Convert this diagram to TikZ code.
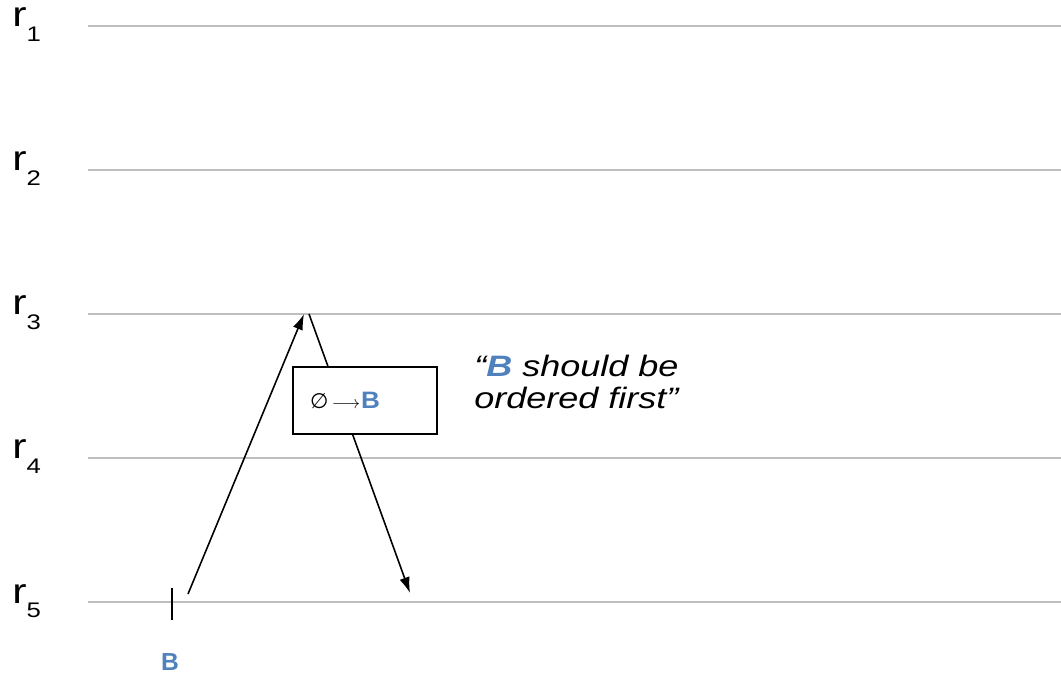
\documentclass[tikz,border=0pt]{standalone}
\usepackage{fontspec}
\setmainfont{Liberation Sans}
\newfontfamily\symfont{DejaVu Sans}
\usepackage{xcolor}
\usetikzlibrary{arrows.meta}
\definecolor{bblue}{RGB}{79,129,189}
\definecolor{rowgray}{RGB}{190,190,190}
\newcommand{\wide}[1]{\scalebox{1.22}[1]{#1}}

\begin{document}
\begin{tikzpicture}[x=0.02cm,y=-0.02cm,
    rowline/.style={rowgray, line width=1.1pt},
    msg/.style={-{Latex[length=9pt,width=6pt]}, line width=0.9pt}]
  \useasboundingbox (0,0) rectangle (1061,678);

  % replica rows
  \foreach \i/\y in {1/26,2/170,3/314,4/458,5/602} {
    \coordinate (l\i) at (88,\y);
    \coordinate (e\i) at (1061,\y);
    \draw[rowline] (l\i) -- (e\i);
    \node[anchor=base west, inner sep=0] (r\i) at (12,\y+1)
      {\wide{\fontsize{20}{22}\selectfont r}\raisebox{-8pt}{\fontsize{12}{13}\selectfont\wide{\i}}};
  }

  % client B at r5
  \coordinate (tb) at (172,588);
  \coordinate (bb) at (172,620);
  \draw[line width=0.9pt] (tb) -- (bb);
  \node[text=bblue, font=\bfseries\fontsize{14}{15}\selectfont] (cli) at (170,662) {B};

  % round trip to r3
  \coordinate (send) at (188,594);
  \coordinate (up) at (304,314);
  \coordinate (down) at (309,314);
  \coordinate (recv) at (410,593);
  \draw[msg] (send) -- (up);
  \draw[msg] (down) -- (recv);

  \node[draw, fill=white, line width=0.9pt, minimum width=2.88cm, minimum height=1.34cm,
    inner xsep=0.34cm, text width=2.2cm, align=left] (order) at (365,400.5)
    {{\symfont\fontsize{12}{13}\selectfont ∅}\hspace{2pt}$\longrightarrow$\hspace{0.5pt}{\bfseries\color{bblue}\fontsize{13.5}{15}\selectfont\scalebox{1.1}[1]{B}}};

  \node[anchor=north west, inner sep=0, align=left, font=\itshape\fontsize{16.8}{18.2}\selectfont]
    (note) at (474,355) {\wide{“{\bfseries\color{bblue}B} should be}\\\wide{ordered first”}};
\end{tikzpicture}
\end{document}
